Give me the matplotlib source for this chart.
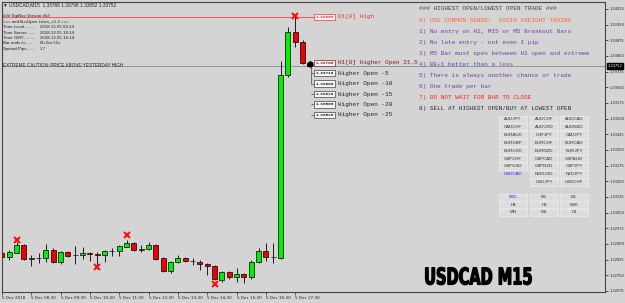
import numpy as np
import matplotlib.pyplot as plt
from matplotlib.patches import Rectangle, PathPatch
from matplotlib.textpath import TextPath
from matplotlib.font_manager import FontProperties
from matplotlib.transforms import blended_transform_factory, Affine2D

# USDCAD M15 bars, first bar 5 Dec 07:30
opens = [1.32857, 1.32838, 1.32857, 1.32895, 1.32828, 1.32833, 1.32833, 1.32871, 1.32814, 1.32862,
         1.32845, 1.32847, 1.32857, 1.32852, 1.32847, 1.32866, 1.32867, 1.32886, 1.32905, 1.32871,
         1.32876, 1.32895, 1.32833, 1.32771, 1.32814, 1.32833, 1.32819, 1.32814, 1.32804, 1.32795,
         1.32728, 1.32766, 1.32742, 1.32756, 1.32742, 1.32814, 1.32867, 1.32838, 1.32833, 1.33709,
         1.33915, 1.33867, 1.33768]
highs = [1.32867, 1.32871, 1.32910, 1.32900, 1.32847, 1.32857, 1.32900, 1.32880, 1.32867, 1.32867,
         1.32890, 1.32886, 1.32860, 1.32862, 1.32871, 1.32880, 1.32895, 1.32919, 1.32910, 1.32895,
         1.32910, 1.32900, 1.32838, 1.32819, 1.32847, 1.32838, 1.32833, 1.32824, 1.32809, 1.32800,
         1.32771, 1.32771, 1.32785, 1.32761, 1.32824, 1.32880, 1.32905, 1.32905, 1.33776, 1.33939,
         1.33988, 1.33876, 1.33776]
lows = [1.32828, 1.32824, 1.32855, 1.32824, 1.32795, 1.32809, 1.32814, 1.32809, 1.32804, 1.32838,
        1.32804, 1.32828, 1.32819, 1.32790, 1.32814, 1.32843, 1.32843, 1.32886, 1.32867, 1.32862,
        1.32871, 1.32824, 1.32766, 1.32761, 1.32809, 1.32814, 1.32800, 1.32776, 1.32752, 1.32728,
        1.32718, 1.32733, 1.32718, 1.32714, 1.32733, 1.32809, 1.32819, 1.32809, 1.32830, 1.33700,
        1.33843, 1.33762, 1.33750]
closes = [1.32838, 1.32862, 1.32895, 1.32828, 1.32833, 1.32834, 1.32871, 1.32814, 1.32862, 1.32843,
          1.32848, 1.32857, 1.32852, 1.32847, 1.32867, 1.32867, 1.32891, 1.32905, 1.32871, 1.32876,
          1.32895, 1.32828, 1.32771, 1.32814, 1.32833, 1.32819, 1.32818, 1.32804, 1.32795, 1.32733,
          1.32766, 1.32742, 1.32756, 1.32742, 1.32814, 1.32867, 1.32838, 1.32840, 1.33709, 1.33915,
          1.33867, 1.33767, 1.33752]

time_labels = ['5 Dec 2018', '5 Dec 08:30', '5 Dec 09:30', '5 Dec 10:30', '5 Dec 11:30', '5 Dec 12:30',
               '5 Dec 13:30', '5 Dec 14:30', '5 Dec 15:30', '5 Dec 16:30', '5 Dec 17:30']
time_label_bars = [0, 4, 8, 12, 16, 20, 24, 28, 32, 36, 40]

# red crosses (swing marks)
mark_bars = [2, 13, 17, 29, 40]
mark_prices = [1.32919, 1.32790, 1.32943, 1.32709, 1.33991]

d1_high = 1.33988
h1_open = 1.33768
h1_open_pips = 21.5
level_pips = [-5, -10, -15, -20, -25]
last_price = 1.33752

pairs = [['AUDJPY', 'AUDCHF', 'AUDCAD'],
         ['CADCHF', 'AUDUSD', 'AUDNZD'],
         ['EURAUD', 'CHFJPY', 'CADJPY'],
         ['EURGBP', 'EURCHF', 'EURCAD'],
         ['EURUSD', 'EURNZD', 'EURJPY'],
         ['GBPCHF', 'GBPCAD', 'GBPAUD'],
         ['GBPUSD', 'GBPNZD', 'GBPJPY'],
         ['USDCAD', 'NZDUSD', 'NZDJPY'],
         ['', 'USDJPY', 'USDCHF']]
timeframes = [['M15', 'M5', 'M1'], ['H4', 'H1', 'M30'], ['MN', 'W1', 'D1']]

rules = ['### HIGHEST OPEN/LOWEST OPEN TRADE ###',
         '0) USE COMMON SENSE!  AVOID FREIGHT TRAINS',
         '1) No entry on H1, M15 or M5 Breakout Bars',
         '2) No late entry - not even 1 pip',
         '3) M5 Bar must open between H1 open and extreme',
         '4) BE+1 better than a loss',
         '5) There is always another chance or trade',
         '6) One trade per bar',
         '7) DO NOT WAIT FOR BAR TO CLOSE',
         '8) SELL AT HIGHEST OPEN/BUY AT LOWEST OPEN']
rule_colors = ['#4a4060', '#ff6633', '#6a44a8', '#6a44a8', '#6a44a8', '#6a44a8',
               '#6a44a8', '#6a44a8', '#ff1a1a', '#2a2a3a']

info = [('### TopBox Version ###', ''),
        ('=== amHiLoOpen Lines_v1.2 ===', ''),
        ('Time Local.........', '2018.12.05 08:14'),
        ('Time Server.......', '2018.12.05 18:14'),
        ('Time GMT..........', '2018.12.05 16:14'),
        ('Bar ends in.......', '0h 0m 51s'),
        ('Spread Pips.......', '1.7')]

bg = '#d4d4d4'
W, H = 625, 303
fig = plt.figure(figsize=(W / 100, H / 100), dpi=100, facecolor=bg)
ax = fig.add_axes([2 / W, 11 / H, 603 / W, 290 / H])
ax.set_facecolor(bg)
ax.set_xlim(0, 82.26)
ax.set_ylim(1.326702, 1.340585)

# candles
x = np.arange(len(opens))
for i in x:
    o, h, l, c = opens[i], highs[i], lows[i], closes[i]
    ax.vlines(i, l, h, color='black', lw=0.6, zorder=2)
    col = '#00f000' if c >= o else '#ee0000'
    hgt = max(abs(c - o), 0.000012)
    ax.bar(i, hgt, bottom=min(o, c), width=0.68, color=col, edgecolor='black', lw=0.5, zorder=3)
ax.plot([x[-1]], [closes[-1] + 0.00012], marker='o', ms=3.5, color='black', zorder=4)

ax.plot(mark_bars, mark_prices, linestyle='none', marker='x', ms=4.5, mew=1.5, color='#ff1010', zorder=5)

# levels
ax.hlines(d1_high, 0, 42.6, color='#ff4040', lw=0.6, zorder=1)
ax.axhline(last_price, color='#8a98a6', lw=0.7, zorder=1)

box_font = dict(fontsize=3.2, family='Liberation Mono', fontweight='bold', va='center', ha='left')
ax.text(42.75, d1_high, f'{d1_high:.5f}', color='#ff3030',
        bbox=dict(boxstyle='square,pad=0.25', fc='#f4f4f4', ec='#ff3030', lw=0.5), **box_font)
ax.text(45.9, d1_high, 'D1[0] High', color='#ff3030', fontsize=4.3, family='Liberation Mono', va='center')
ax.text(42.75, h1_open, f'{h1_open:.5f}', color='#8b1a1a',
        bbox=dict(boxstyle='square,pad=0.25', fc='#f4f4f4', ec='#8b1a1a', lw=0.5), **box_font)
ax.text(45.9, h1_open, f'H1[0] Higher Open {h1_open_pips}', color='#8b1a1a', fontsize=4.3,
        family='Liberation Mono', va='center')
level_prices = [h1_open + p * 0.0001 for p in level_pips]
ax.vlines(42.1, level_prices[1], h1_open, color='#444444', lw=0.5)
for p, lp in zip(level_pips, level_prices):
    ax.hlines(lp, 42.1, 42.7, color='#444444', lw=0.5)
    ax.text(42.75, lp, f'{lp:.5f}', color='#222222',
            bbox=dict(boxstyle='square,pad=0.25', fc='#f4f4f4', ec='#444444', lw=0.5), **box_font)
    ax.text(45.9, lp, f'Higher Open {p}', color='#222222', fontsize=4.3, family='Liberation Mono', va='center')

# axes
yt = np.round(np.arange(1.32675, 1.34026, 0.00075), 5)
ax.yaxis.tick_right()
ax.set_yticks(yt)
ax.set_yticklabels([f'{v:.5f}' for v in yt])
ax.tick_params(axis='y', length=2, width=0.5, labelsize=2.6, pad=1, colors='#222222')
ax.set_xticks(time_label_bars)
ax.set_xticklabels(time_labels)
for lab in ax.get_xticklabels():
    lab.set_ha('left')
ax.tick_params(axis='x', length=2, width=0.5, labelsize=3, pad=1, colors='#222222')
for s in ax.spines.values():
    s.set_color('#444444')
    s.set_linewidth(0.8)
tr = blended_transform_factory(ax.transAxes, ax.transData)
ax.text(1.004, last_price, f'{last_price:.5f}', transform=tr, fontsize=2.6, color='white', va='center',
        ha='left', bbox=dict(boxstyle='square,pad=0.2', fc='black', ec='black'), clip_on=False, zorder=6)

# overlay in pixel coordinates
ov = fig.add_axes([0, 0, 1, 1], zorder=5)
ov.set_xlim(0, W)
ov.set_ylim(H, 0)
ov.axis('off')
ov.patch.set_alpha(0)

sans = dict(family='Liberation Sans', color='#222222', va='center')
ov.text(3, 5, '\u25bc USDCAD,M15  1.33768 1.33798 1.33652 1.33752', fontsize=3.4, **sans)
for k, (lab, val) in enumerate(info):
    yy = [15.7, 21.7, 26.9, 32.5, 37.9, 43.3, 49][k]
    ov.text(3, yy, lab, fontsize=3.2, **sans)
    if val:
        ov.text(40, yy, val, fontsize=3.2, **sans)
ov.text(3, 65.7, 'EXTREME CAUTION: PRICE ABOVE YESTERDAY HIGH', fontsize=3.3, **sans)

for k, (txt, col) in enumerate(zip(rules, rule_colors)):
    ov.text(419, 9 + k * 11.1, txt, fontsize=4.35, family='Liberation Mono', color=col, va='center')

col_x = [499, 530, 560]
bw, bh = 28, 7
for r, row in enumerate(pairs):
    yc = 119 + r * 7.9
    for c, name in enumerate(row):
        if not name:
            continue
        if name == 'USDCAD':
            ov.text(col_x[c] + bw / 2, yc, name, fontsize=3.2, family='Liberation Sans', color='#2020ff',
                    ha='center', va='center')
            continue
        ov.add_patch(Rectangle((col_x[c], yc - bh / 2), bw, bh, fc='#dcdcdc', ec='#ececec', lw=0.5))
        ov.text(col_x[c] + bw / 2, yc, name, fontsize=3.2, family='Liberation Sans', color='#333333',
                ha='center', va='center')
for r, row in enumerate(timeframes):
    yc = 197 + r * 7.7
    for c, name in enumerate(row):
        ov.add_patch(Rectangle((col_x[c], yc - bh / 2), bw, bh, fc='#dcdcdc', ec='#ececec', lw=0.5))
        ov.text(col_x[c] + bw / 2, yc, name, fontsize=3.2, family='Liberation Sans',
                color='#2020ff' if name == 'M15' else '#333333', ha='center', va='center')

# big condensed symbol caption, squeezed to the box it fills in the reference
tp = TextPath((0, 0), 'USDCAD M15', size=10, prop=FontProperties(family='DejaVu Sans', weight='bold'))
ext = tp.get_extents()
sq = Affine2D().translate(-ext.x0, -ext.y0).scale(106 / ext.width, -17.5 / ext.height).translate(425.5, 284.8)
ov.add_patch(PathPatch(sq.transform_path(tp), fc='black', ec='black', lw=0.9))

fig.savefig('out.png', dpi=100, facecolor=bg)
